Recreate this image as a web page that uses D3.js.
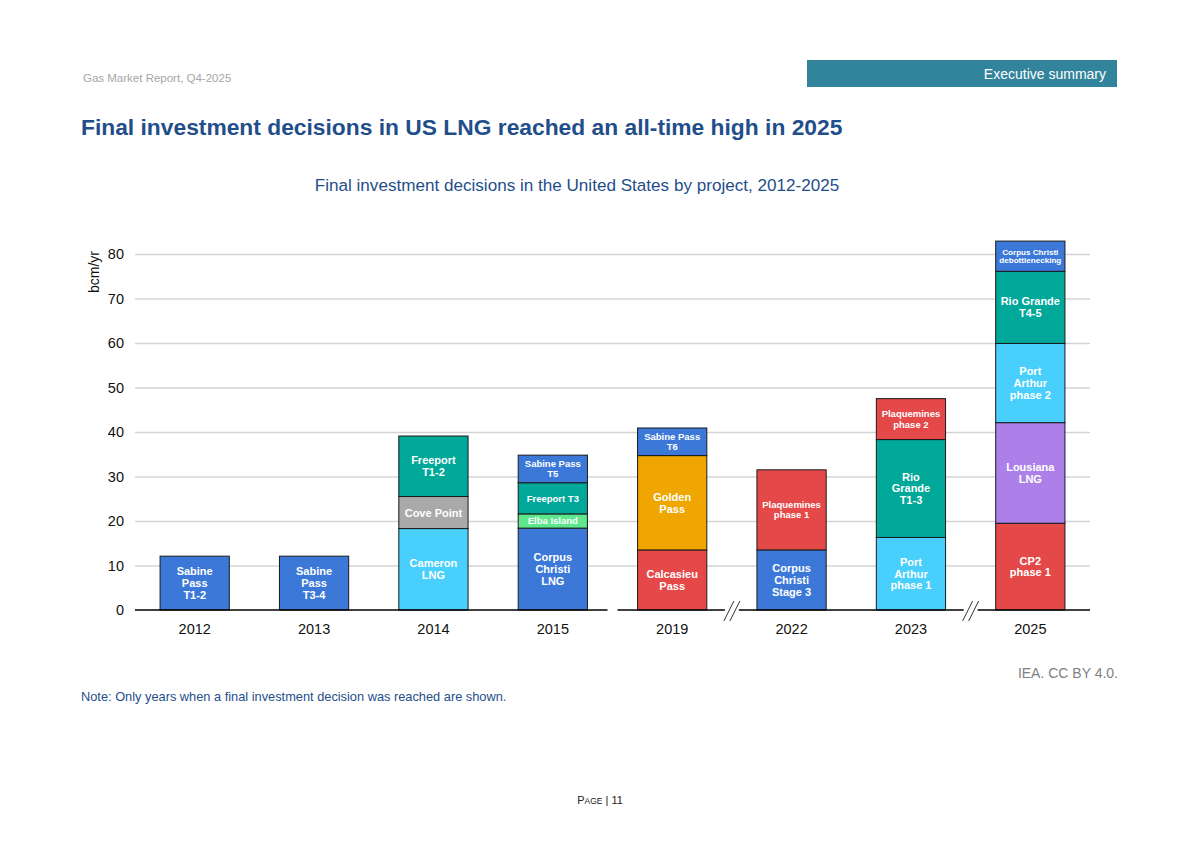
<!DOCTYPE html>
<meta charset="utf-8">
<style>
body{margin:0;background:#fff;}
text{font-family:"Liberation Sans",Arial,sans-serif;}
.grid line{stroke:#d4d4d4;stroke-width:1.3px;}
.seg rect{stroke:#1a1a1a;stroke-width:1px;}
.seg text{fill:#fff;font-weight:bold;}
</style>
<body>
<script src="https://d3js.org/d3.v7.min.js"></script>
<script>

// years shown on the axis (only years with a FID)
var years = ["2012","2013","2014","2015","2019","2022","2023","2025"];

// one entry per project, stacked bottom to top inside each year
var projYear = ["2012","2013","2014","2014","2014","2015","2015","2015","2015","2019","2019","2019","2022","2022","2023","2023","2023","2025","2025","2025","2025","2025"];
var projName = ["Sabine\nPass\nT1-2","Sabine\nPass\nT3-4","Cameron\nLNG","Cove Point","Freeport\nT1-2",
  "Corpus\nChristi\nLNG","Elba Island","Freeport T3","Sabine Pass\nT5",
  "Calcasieu\nPass","Golden\nPass","Sabine Pass\nT6",
  "Corpus\nChristi\nStage 3","Plaquemines\nphase 1",
  "Port\nArthur\nphase 1","Rio\nGrande\nT1-3","Plaquemines\nphase 2",
  "CP2\nphase 1","Lousiana\nLNG","Port\nArthur\nphase 2","Rio Grande\nT4-5","Corpus Christi\ndebottlenecking"];
var projBcm = [12.1,12.1,18.3,7.2,13.6, 18.4,3.2,7.0,6.2, 13.5,21.2,6.2, 13.5,18.0, 16.3,22.0,9.2, 19.5,22.6,17.8,16.2,6.8];
var projKind = ["blue","blue","sky","grey","teal", "blue","mint","teal","blue", "red","gold","blue", "blue","red", "sky","teal","red", "red","purple","sky","teal","blue"];

var yTicks = [0,10,20,30,40,50,60,70,80];
// axis breaks between these neighbouring years (marked with //)
var breaksAfter = ["2019","2023"];
var gapsAfter = ["2015"];

var palette = {blue:"#3c78d8",sky:"#48cffc",grey:"#a9a9a9",teal:"#00a89a",mint:"#5de68b",red:"#e44848",gold:"#efa600",purple:"#ad80e9"};

var W = 1200, H = 848;
var svg = d3.select("body").append("svg").attr("width",W).attr("height",H);

// page header
svg.append("text").attr("x",83).attr("y",82).text("Gas Market Report, Q4-2025")
  .style("font-size","11.5px").style("fill","#a6a6a6");
svg.append("rect").attr("x",807).attr("y",60).attr("width",310).attr("height",27).attr("fill","#31849b");
svg.append("text").attr("x",1106).attr("y",79).attr("text-anchor","end").text("Executive summary")
  .style("font-size","14px").style("fill","#fff");
svg.append("text").attr("x",81).attr("y",135).text("Final investment decisions in US LNG reached an all-time high in 2025")
  .style("font-size","22.8px").style("font-weight","bold").style("fill","#1f4e8a");
svg.append("text").attr("x",577).attr("y",191).attr("text-anchor","middle")
  .text("Final investment decisions in the United States by project, 2012-2025")
  .style("font-size","17.1px").style("fill","#1f4e8a");

var left = 135, right = 1090, bottom = 610;
var x = d3.scaleBand().domain(years).range([left,right]).paddingInner(0.42).paddingOuter(0.21);
var y = d3.scaleLinear().domain([0,80]).range([bottom,254]);

// gridlines + tick labels
var gy = svg.append("g").attr("class","grid").attr("transform","translate("+left+",0)")
  .call(d3.axisLeft(y).tickValues(yTicks).tickSize(-(right-left)).tickPadding(11));
gy.select(".domain").remove();
gy.selectAll(".tick text").style("font-size","14.5px").style("fill","#111").attr("font-family",null);
gy.selectAll(".tick").filter(function(d){return d===0;}).select("line").remove();

svg.append("text").attr("transform","translate(99,272) rotate(-90)").attr("text-anchor","middle")
  .text("bcm/yr").style("font-size","14px").style("fill","#111");

// stack the projects
var rows = projName.map(function(n,i){return {name:n,year:projYear[i],v:projBcm[i],kind:projKind[i]};});
var base = {};
rows.forEach(function(r){ r.y0 = base[r.year]||0; r.y1 = r.y0 + r.v; base[r.year] = r.y1; });

var seg = svg.append("g").selectAll("g").data(rows).join("g").attr("class","seg");
seg.append("rect")
  .attr("x",function(d){return x(d.year);})
  .attr("width",x.bandwidth())
  .attr("y",function(d){return y(d.y1);})
  .attr("height",function(d){return y(d.y0)-y(d.y1);})
  .attr("fill",function(d){return palette[d.kind];});

seg.each(function(d){
  var g = d3.select(this);
  var lines = d.name.split("\n");
  var t = g.append("text").attr("text-anchor","middle");
  t.selectAll("tspan").data(lines).join("tspan").text(function(s){return s;});
  // long lines get the small label font
  var longest = d3.max(lines,function(s){return s.length;});
  var fs = longest > 10 ? 9.5 : 11;
  t.style("font-size",fs+"px");
  var w = d3.max(t.selectAll("tspan").nodes(),function(n){return n.getComputedTextLength();});
  if (w > 62) { fs = fs*62/w; t.style("font-size",fs+"px"); }
  var lh = fs*1.07;
  var cx = x(d.year)+x.bandwidth()/2;
  var cy = (y(d.y0)+y(d.y1))/2;
  var top = cy - (lines.length-1)*lh/2 + fs*0.36;
  t.selectAll("tspan").attr("x",cx).attr("y",function(s,i){return top+i*lh;});
});

// x axis with breaks
function mid(a){ var i = years.indexOf(a); return (x(years[i])+x(years[i+1])+x.bandwidth())/2; }
var cuts = [];
breaksAfter.forEach(function(a){cuts.push({c:mid(a),h:7});});
gapsAfter.forEach(function(a){cuts.push({c:mid(a),h:5});});
cuts.sort(function(a,b){return a.c-b.c;});
var xs = left, segs = [];
cuts.forEach(function(k){ segs.push([xs,k.c-k.h]); xs = k.c+k.h; });
segs.push([xs,right]);
svg.append("g").selectAll("line").data(segs).join("line")
  .attr("x1",function(d){return d[0];}).attr("x2",function(d){return d[1];})
  .attr("y1",bottom).attr("y2",bottom).attr("stroke","#000").attr("stroke-width",1.5);
breaksAfter.forEach(function(a){
  var c = mid(a);
  [-3,3].forEach(function(o){
    svg.append("line").attr("x1",c+o-5).attr("y1",bottom+11).attr("x2",c+o+5).attr("y2",bottom-9)
      .attr("stroke","#333").attr("stroke-width",1);
  });
});

var gx = svg.append("g").attr("transform","translate(0,"+bottom+")")
  .call(d3.axisBottom(x).tickSize(0).tickPadding(14));
gx.select(".domain").remove();
gx.selectAll(".tick text").style("font-size","14.5px").style("fill","#111").attr("font-family",null);

// source, note, page
svg.append("text").attr("x",1118).attr("y",678).attr("text-anchor","end").text("IEA. CC BY 4.0.")
  .style("font-size","14px").style("fill","#7f7f7f");
svg.append("text").attr("x",81).attr("y",701).text("Note: Only years when a final investment decision was reached are shown.")
  .style("font-size","12.8px").style("fill","#1f4e8a");
var pg = svg.append("text").attr("x",600).attr("y",804).attr("text-anchor","middle").style("fill","#222");
pg.append("tspan").text("P").style("font-size","11px");
pg.append("tspan").text("AGE").style("font-size","8.5px");
pg.append("tspan").text(" | 11").style("font-size","11px");
</script>
</body>
